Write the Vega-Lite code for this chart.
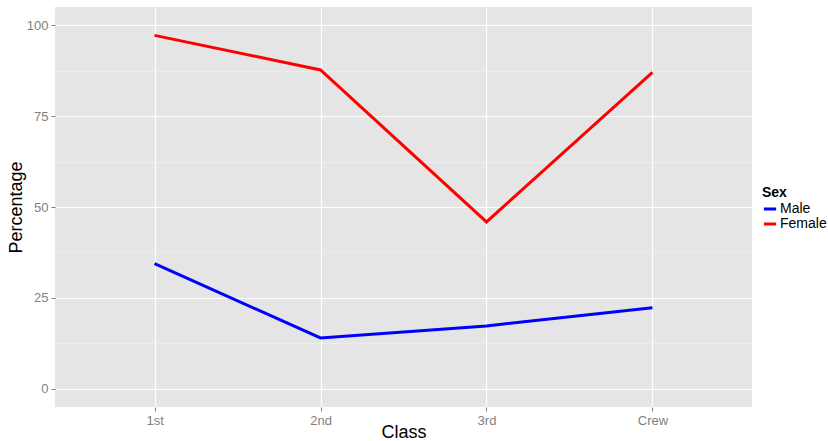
{
  "$schema": "https://vega.github.io/schema/vega-lite/v6.json",
  "width": 697,
  "height": 400,
  "autosize": {"type": "none"},
  "padding": {"left": 55, "top": 7, "right": 76, "bottom": 34},
  "background": "white",
  "config": {
    "font": "Liberation Sans",
    "view": {"fill": "#E5E5E5", "stroke": null},
    "axis": {"domain": false}
  },
  "data": {
    "values": [
      {"Class": "1st", "Sex": "Male", "Percentage": 34.4},
      {"Class": "2nd", "Sex": "Male", "Percentage": 14.0},
      {"Class": "3rd", "Sex": "Male", "Percentage": 17.3},
      {"Class": "Crew", "Sex": "Male", "Percentage": 22.3},
      {"Class": "1st", "Sex": "Female", "Percentage": 97.2},
      {"Class": "2nd", "Sex": "Female", "Percentage": 87.7},
      {"Class": "3rd", "Sex": "Female", "Percentage": 45.9},
      {"Class": "Crew", "Sex": "Female", "Percentage": 87.0}
    ]
  },
  "mark": {"type": "line", "strokeWidth": 3},
  "encoding": {
    "x": {
      "field": "Class",
      "type": "ordinal",
      "scale": {"type": "point", "padding": 0.6, "domain": ["1st", "2nd", "3rd", "Crew"]},
      "axis": {
        "title": "Class",
        "titleFontSize": 18,
        "titleFontWeight": "normal",
        "titleColor": "black",
        "titleBaseline": "alphabetic",
        "titleY": 30,
        "labelAngle": 0,
        "labelFontSize": 13,
        "labelColor": "#7F7F7F",
        "labelPadding": 3,
        "tickColor": "#7F7F7F",
        "tickSize": 4,
        "grid": true,
        "gridColor": "white",
        "gridWidth": 1.2
      }
    },
    "y": {
      "field": "Percentage",
      "type": "quantitative",
      "scale": {"domain": [-5, 105], "nice": false, "zero": false},
      "axis": {
        "title": "Percentage",
        "titleFontSize": 18,
        "titleFontWeight": "normal",
        "titleColor": "black",
        "titlePadding": 1,
        "values": [0, 12.5, 25, 37.5, 50, 62.5, 75, 87.5, 100],
        "labelExpr": "datum.value % 25 === 0 ? datum.label : ''",
        "labelFontSize": 13,
        "labelColor": "#7F7F7F",
        "labelPadding": 3,
        "tickSize": 4,
        "tickColor": {"condition": {"test": "datum.value % 25 !== 0", "value": "transparent"}, "value": "#7F7F7F"},
        "grid": true,
        "gridColor": {"condition": {"test": "datum.value % 25 !== 0", "value": "#F2F2F2"}, "value": "white"},
        "gridWidth": {"condition": {"test": "datum.value % 25 !== 0", "value": 0.6}, "value": 1.2}
      }
    },
    "color": {
      "field": "Sex",
      "type": "nominal",
      "scale": {"domain": ["Male", "Female"], "range": ["#0000FF", "#FF0000"]},
      "legend": {
        "title": "Sex",
        "orient": "none",
        "legendX": 707,
        "legendY": 179,
        "titleFontSize": 14,
        "titleFontWeight": "bold",
        "titleColor": "black",
        "titlePadding": 1,
        "labelFontSize": 14,
        "labelColor": "black",
        "labelOffset": 2,
        "symbolType": "stroke",
        "symbolStrokeWidth": 3,
        "symbolSize": 150,
        "rowPadding": 0
      }
    }
  }
}
